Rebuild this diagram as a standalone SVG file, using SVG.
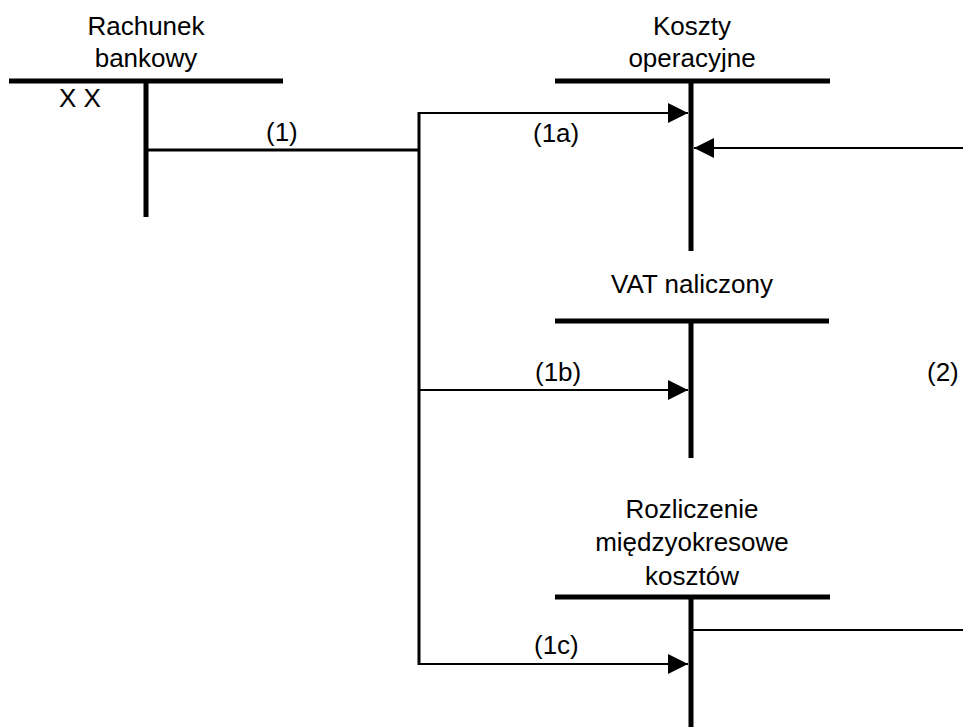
<svg xmlns="http://www.w3.org/2000/svg" width="963" height="727" viewBox="0 0 963 727">
<defs>
<style>
text{font-family:"Liberation Sans",Arial,sans-serif;font-size:26px;fill:#000}
.c{text-anchor:middle}
.bar{stroke:#000;stroke-width:5;fill:none}
.con{stroke:#000;stroke-width:2;fill:none}
.conb{stroke:#000;stroke-width:3;fill:none}
</style>
<marker id="ah" markerWidth="20" markerHeight="20" refX="20" refY="10" orient="auto" markerUnits="userSpaceOnUse" viewBox="0 0 20 20">
<path d="M0,0 L20,10 L0,20 Z" fill="#000"/>
</marker>
</defs>
<rect width="963" height="727" fill="#fff"/>
<g id="rachunek-bankowy">
<text class="c" x="146" y="35">Rachunek</text>
<text class="c" x="146" y="67">bankowy</text>
<line class="bar" x1="9" y1="81" x2="283" y2="81"/>
<line class="bar" x1="146" y1="81" x2="146" y2="217"/>
<text x="59" y="107">X X</text>
</g>
<g id="koszty-operacyjne">
<text class="c" x="692" y="35">Koszty</text>
<text class="c" x="692" y="67">operacyjne</text>
<line class="bar" x1="555" y1="81" x2="830" y2="81"/>
<line class="bar" x1="691" y1="81" x2="691" y2="251"/>
</g>
<g id="vat-naliczony">
<text class="c" x="692" y="293">VAT naliczony</text>
<line class="bar" x1="555" y1="321" x2="829" y2="321"/>
<line class="bar" x1="691" y1="321" x2="691" y2="458"/>
</g>
<g id="rozliczenie">
<text class="c" x="692" y="518">Rozliczenie</text>
<text class="c" x="692" y="551">międzyokresowe</text>
<text class="c" x="692" y="585">kosztów</text>
<line class="bar" x1="555" y1="597" x2="830" y2="597"/>
<line class="bar" x1="691" y1="597" x2="691" y2="727"/>
</g>
<g id="connectors">
<polyline class="conb" points="146,150 419,150"/>
<line class="conb" x1="419" y1="112" x2="419" y2="665"/>
<line class="con" x1="419" y1="113" x2="688" y2="113" marker-end="url(#ah)"/>
<line class="con" x1="419" y1="390" x2="688" y2="390" marker-end="url(#ah)"/>
<line class="con" x1="418" y1="664" x2="688" y2="664" marker-end="url(#ah)"/>
<line class="con" x1="963" y1="148" x2="694" y2="148" marker-end="url(#ah)"/>
<line class="con" x1="693" y1="630" x2="963" y2="630"/>
<text x="266" y="141">(1)</text>
<text x="533" y="142">(1a)</text>
<text x="535" y="381">(1b)</text>
<text x="534" y="654">(1c)</text>
<text x="927" y="381">(2)</text>
</g>
</svg>
